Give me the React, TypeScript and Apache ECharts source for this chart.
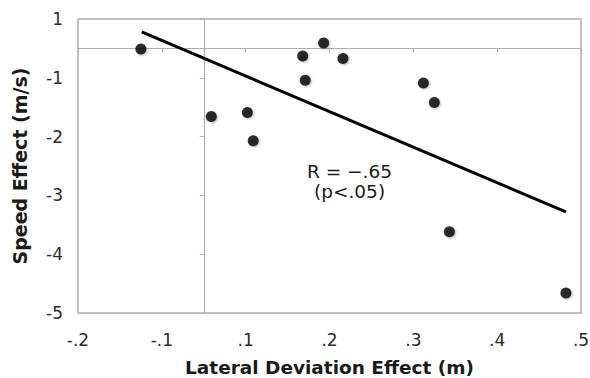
import React, { useEffect, useRef } from "react";
import * as echarts from "echarts";

// Axis tick labels (as printed in the reference)
const xTickLabels = ["-.2", "-.1", ".1", ".2", ".3", ".4", ".5"];
const yTickLabels = ["-5", "-4", "-3", "-2", "-1", "1"];

// Observations: lateral deviation effect (m) and speed effect (m/s)
const lateralDeviation = [
  -0.025, 0.059, 0.102, 0.109, 0.168, 0.171, 0.193, 0.216, 0.312, 0.325, 0.343, 0.482,
];
const speedEffect = [
  -0.51, -1.66, -1.59, -2.07, -0.63, -1.04, -0.41, -0.67, -1.09, -1.42, -3.62, -4.66,
];

// Regression line end points
const fitX = [-0.024, 0.482];
const fitY = [-0.22, -3.28];

// Axis crossing values
const xCross = 0.05;
const yCross = -0.5;

const X_MIN = -0.1;
const X_MAX = 0.5;
const Y_MIN = -5;
const Y_MAX = 0;

const FONT = "DejaVu Sans";
const GRID = { left: 78, top: 19, width: 503, height: 294 };
const FRAME = "#b3acac";

export default function App() {
  const ref = useRef<HTMLDivElement>(null);

  useEffect(() => {
    if (!ref.current) return;
    const chart = echarts.init(ref.current, undefined, { renderer: "svg" });

    const xOffsetFrac = (xCross - X_MIN) / (X_MAX - X_MIN);
    const yOffsetFrac = (Y_MAX - yCross) / (Y_MAX - Y_MIN);

    const xLabel = (v: number) => xTickLabels[Math.round((v - X_MIN) / 0.1)] ?? "";
    const yLabel = (v: number) => yTickLabels[Math.round(v - Y_MIN)] ?? "";

    chart.setOption({
      animation: false,
      backgroundColor: "#ffffff",
      grid: {
        left: GRID.left,
        top: GRID.top,
        width: GRID.width,
        height: GRID.height,
        outerBoundsMode: "none",
        containLabel: false,
        show: true,
        borderColor: FRAME,
        borderWidth: 1.5,
        backgroundColor: "#ffffff",
      },
      xAxis: [
        {
          type: "value",
          min: X_MIN,
          max: X_MAX,
          interval: 0.1,
          position: "bottom",
          axisLine: { show: false },
          axisTick: { show: false },
          splitLine: { show: false },
          axisLabel: {
            formatter: xLabel,
            fontFamily: FONT,
            fontSize: 17,
            color: "#2a2a2a",
            margin: 18,
          },
          name: "Lateral Deviation Effect (m)",
          nameLocation: "middle",
          nameGap: 45,
          nameTextStyle: {
            fontFamily: FONT,
            fontSize: 18.5,
            fontWeight: "bold",
            color: "#1a1a1a",
          },
        },
        {
          type: "value",
          min: X_MIN,
          max: X_MAX,
          interval: 0.1,
          position: "top",
          offset: -GRID.height * yOffsetFrac,
          axisLine: { show: true, lineStyle: { color: FRAME, width: 1.2 } },
          axisTick: { show: true, inside: true, length: 4, lineStyle: { color: FRAME } },
          axisLabel: { show: false },
          splitLine: { show: false },
        },
      ],
      yAxis: [
        {
          type: "value",
          min: Y_MIN,
          max: Y_MAX,
          interval: 1,
          position: "left",
          axisLine: { show: false },
          axisTick: { show: false },
          splitLine: { show: false },
          axisLabel: {
            formatter: yLabel,
            fontFamily: FONT,
            fontSize: 17,
            color: "#2a2a2a",
            margin: 15,
          },
          name: "Speed Effect (m/s)",
          nameLocation: "middle",
          nameGap: 48.5,
          nameTextStyle: {
            fontFamily: FONT,
            fontSize: 19,
            fontWeight: "bold",
            color: "#1a1a1a",
          },
        },
        {
          type: "value",
          min: Y_MIN,
          max: Y_MAX,
          interval: 1,
          position: "left",
          offset: -GRID.width * xOffsetFrac,
          axisLine: { show: true, lineStyle: { color: FRAME, width: 1.2 } },
          axisTick: { show: true, inside: false, length: 4, lineStyle: { color: FRAME } },
          axisLabel: { show: false },
          splitLine: { show: false },
        },
      ],
      series: [
        {
          type: "line",
          xAxisIndex: 0,
          yAxisIndex: 0,
          data: fitX.map((x, i) => [x, fitY[i]]),
          showSymbol: false,
          symbol: "none",
          lineStyle: { color: "#000000", width: 3 },
          z: 3,
        },
        {
          type: "scatter",
          xAxisIndex: 0,
          yAxisIndex: 0,
          data: lateralDeviation.map((x, i) => [x, speedEffect[i]]),
          symbol: "circle",
          symbolSize: 11,
          itemStyle: {
            color: "#000000",
            shadowColor: "rgba(0,0,0,0.35)",
            shadowBlur: 2,
            shadowOffsetX: 1,
            shadowOffsetY: 1,
          },
          z: 4,
        },
      ],
      graphic: [
        {
          type: "text",
          left: 349 - 42,
          top: 162,
          style: {
            text: "R = \u2212.65",
            fontFamily: FONT,
            fontSize: 18.5,
            fill: "#1a1a1a",
          },
        },
        {
          type: "text",
          left: 351 - 37,
          top: 182,
          style: {
            text: "(p<.05)",
            fontFamily: FONT,
            fontSize: 18.5,
            fill: "#1a1a1a",
          },
        },
      ],
    });

    return () => chart.dispose();
  }, []);

  return (
    <div
      ref={ref}
      style={{ position: "fixed", left: 0, top: 0, width: 590, height: 378 }}
    />
  );
}
